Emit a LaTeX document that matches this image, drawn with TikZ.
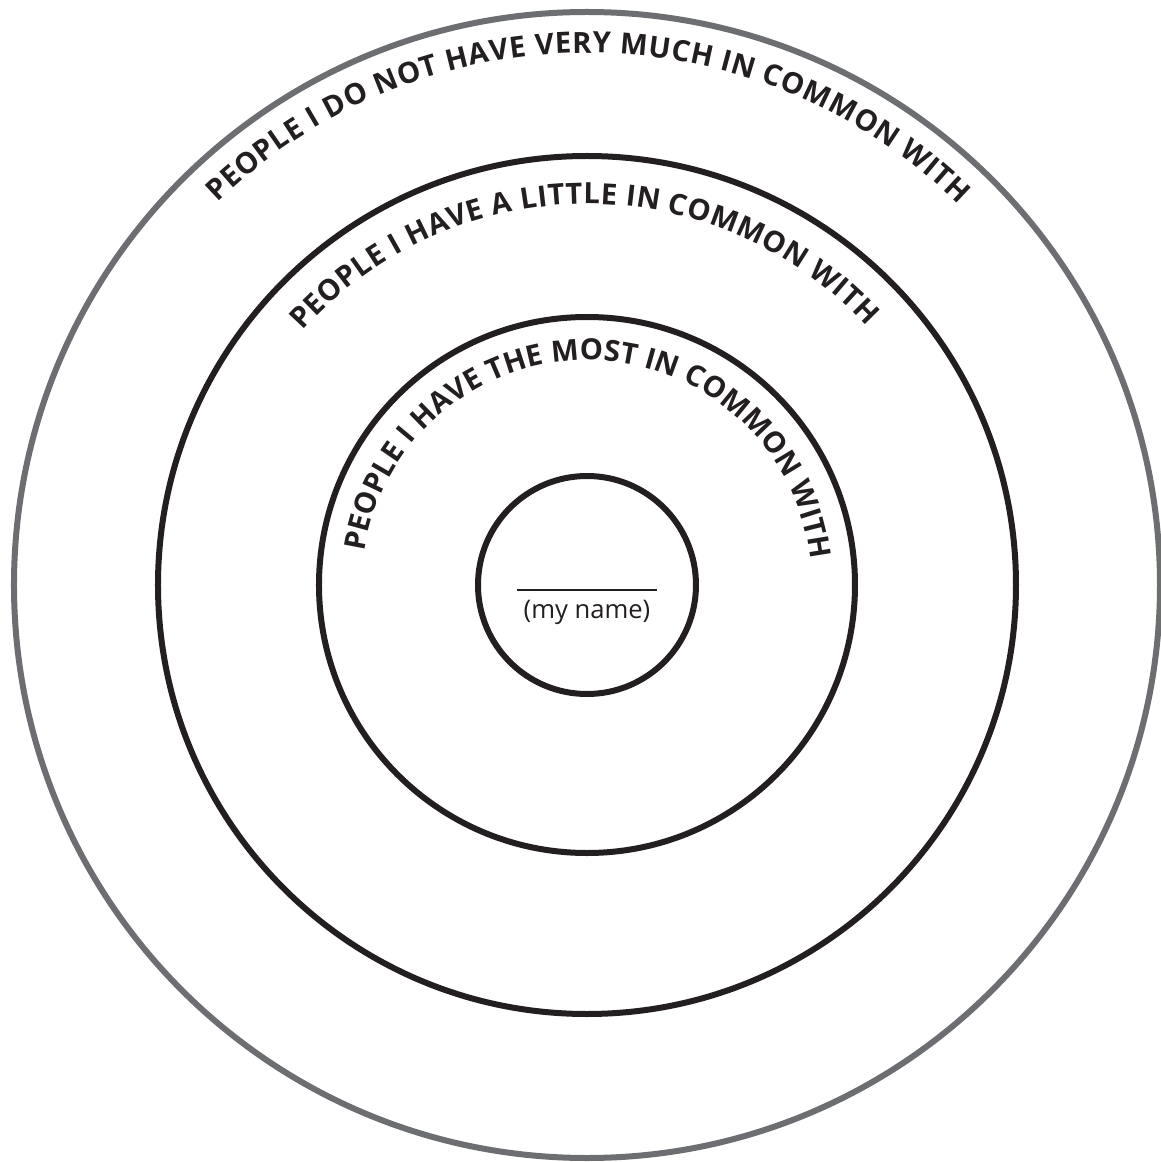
\documentclass[tikz,border=0pt]{standalone}
\usepackage{fontspec}
\usetikzlibrary{decorations.text}
\newfontfamily\labfont{Open Sans}
\definecolor{ringgray}{HTML}{6D6E71}
\definecolor{inkblack}{HTML}{231F20}
\newcommand{\ringfont}{\labfont\bfseries\fontsize{14.6}{15}\selectfont}
\tikzset{
  ringgrey/.style={draw=ringgray, line width=3pt},
  ringblack/.style={draw=inkblack, line width=3pt},
  arclabel/.style={decorate, decoration={text along path, text align={fit to path},
    text color=inkblack, text={|\ringfont|#1}}},
}
\begin{document}
\begin{tikzpicture}[x=0.5pt,y=0.5pt]
\useasboundingbox[fill=white] (-587,-577) rectangle (574,585);
\coordinate (c) at (0,0);
\draw[ringgrey] (c) circle[radius=573];
\draw[ringblack] (c) circle[radius=429];
\draw[ringblack] (c) circle[radius=268];
\draw[ringblack] (c) circle[radius=109];
\path[arclabel={PEOPLE I DO NOT HAVE VERY MUCH IN COMMON WITH}]
  (134:532) arc[start angle=134, end angle=45.7, radius=532];
\path[arclabel={PEOPLE I HAVE A LITTLE IN COMMON WITH}]
  (138.2:381) arc[start angle=138.2, end angle=42.8, radius=381];
\path[arclabel={PEOPLE I HAVE THE MOST IN COMMON WITH}]
  (171.5:225) arc[start angle=171.5, end angle=6.4, radius=225];
\coordinate (ruleL) at (-70,-5);
\coordinate (ruleR) at (70,-5);
\draw[inkblack, line width=0.8pt] (ruleL) -- (ruleR);
\node[text=inkblack, font=\labfont\fontsize{12.8}{14}\selectfont] (myname) at (0,-27) {(my name)};
\end{tikzpicture}
\end{document}
